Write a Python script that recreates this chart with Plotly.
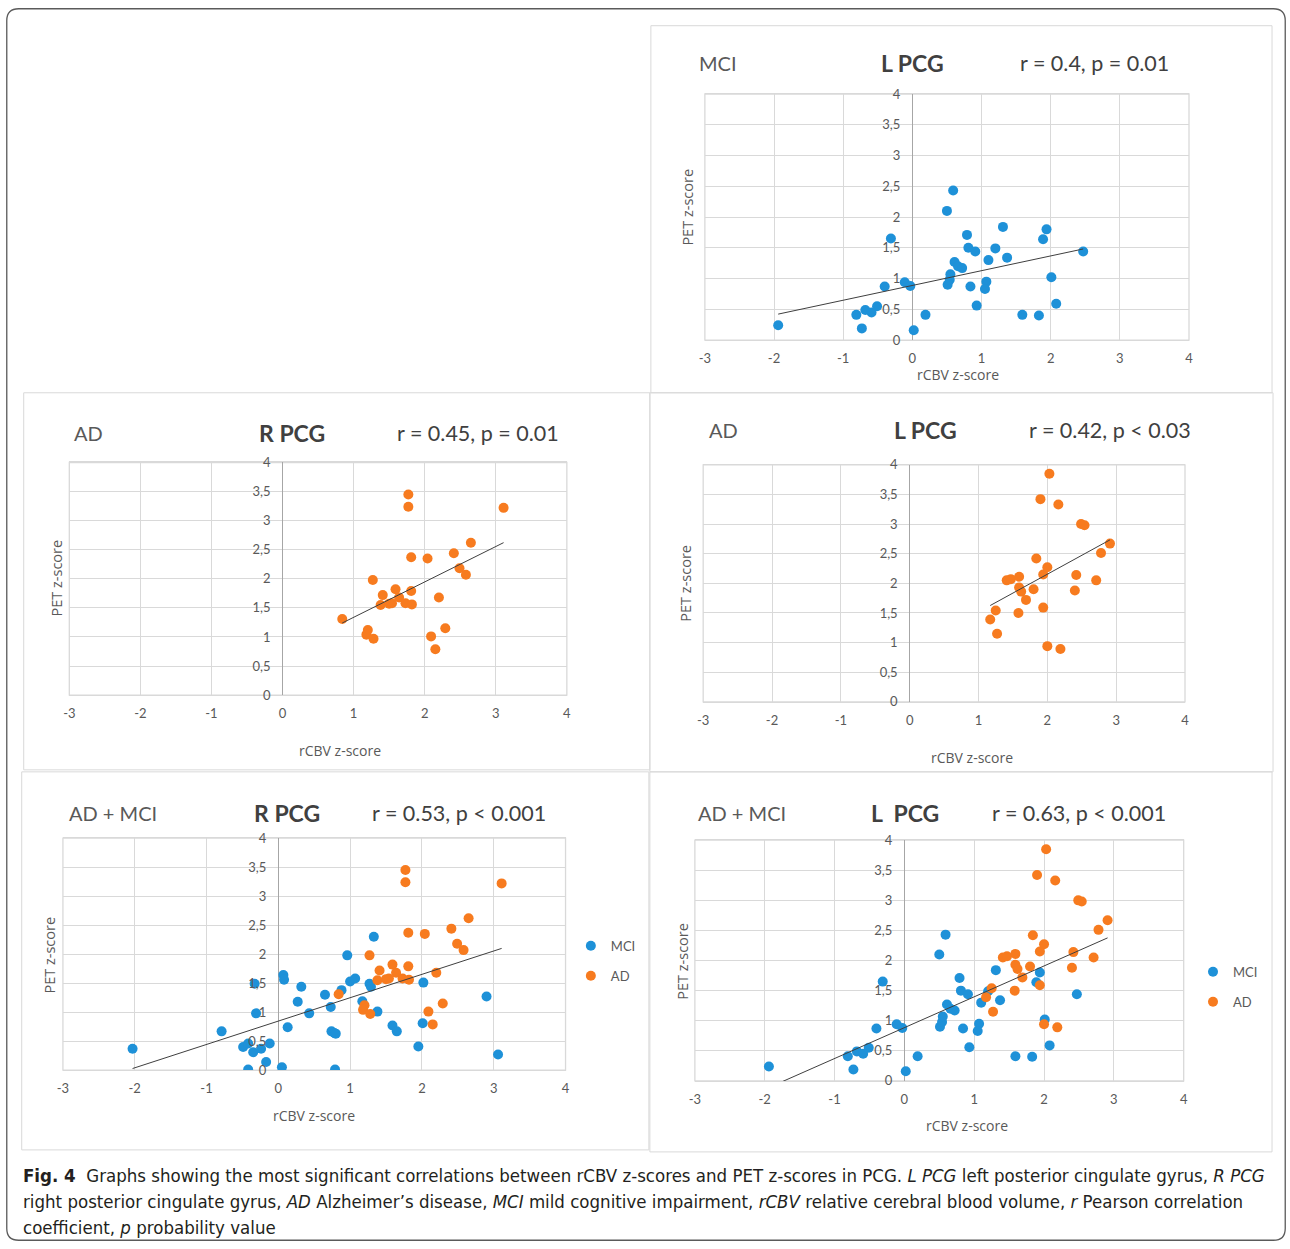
import numpy as np
import plotly.graph_objects as go

W, H = 1290, 1249
# measured mapping from page pixels to pixels of the returned picture
# (picture = S * page + B); positions below are given in picture pixels
SX, BX = 0.992, 6.3
SY, BY = 0.987, 8.3

# ---------------- data ----------------
# MCI, left PCG (panel "MCI L PCG" and blue points of "AD + MCI L PCG")
mci_L_x = [-1.94, -0.81, -0.73, -0.68, -0.59, -0.51, -0.40, -0.31, -0.11, -0.03,
           0.02, 0.19, 0.50, 0.59, 0.51, 0.54, 0.55, 0.61, 0.66, 0.72,
           0.79, 0.81, 0.84, 0.91, 0.93, 1.07, 1.05, 1.10, 1.20, 1.31,
           1.37, 1.59, 1.83, 1.89, 1.94, 2.01, 2.08, 2.47]
mci_L_y = [0.24, 0.41, 0.19, 0.49, 0.45, 0.55, 0.87, 1.65, 0.94, 0.88,
           0.16, 0.41, 2.10, 2.43, 0.90, 0.98, 1.07, 1.27, 1.20, 1.17,
           1.71, 1.50, 0.87, 1.44, 0.56, 0.95, 0.83, 1.30, 1.49, 1.84,
           1.34, 0.41, 0.40, 1.64, 1.80, 1.02, 0.59, 1.44]

# MCI, right PCG (blue points of "AD + MCI R PCG")
mci_R_x = [-2.03, -0.79, -0.49, -0.42, -0.42, -0.35, -0.33, -0.31, -0.24, -0.17,
           -0.12, 0.05, 0.07, 0.08, 0.13, 0.27, 0.32, 0.43, 0.65, 0.73,
           0.74, 0.78, 0.80, 0.79, 0.88, 0.96, 1.00, 1.07, 1.17, 1.27,
           1.29, 1.33, 1.38, 1.59, 1.65, 1.95, 2.01, 2.02, 2.90, 3.06]
mci_R_y = [0.37, 0.67, 0.40, 0.01, 0.46, 0.31, 1.49, 0.98, 0.37, 0.14,
           0.46, 0.05, 1.64, 1.56, 0.74, 1.18, 1.44, 0.98, 1.30, 1.09,
           0.67, 0.64, 0.63, 0.01, 1.38, 1.98, 1.53, 1.58, 1.19, 1.49,
           1.44, 2.30, 1.01, 0.77, 0.67, 0.41, 0.81, 1.51, 1.27, 0.27]

# AD, right PCG
ad_R_x = [0.84, 1.20, 1.18, 1.28, 1.27, 1.38, 1.41, 1.50, 1.54, 1.59,
          1.64, 1.73, 1.77, 1.77, 1.81, 1.81, 1.82, 2.04, 2.09, 2.15,
          2.20, 2.29, 2.41, 2.49, 2.58, 2.65, 3.11]
ad_R_y = [1.31, 1.12, 1.04, 0.97, 1.98, 1.55, 1.72, 1.57, 1.58, 1.82,
          1.68, 1.58, 3.45, 3.24, 2.37, 1.79, 1.56, 2.35, 1.01, 0.79,
          1.68, 1.15, 2.44, 2.18, 2.07, 2.62, 3.22]

# AD, left PCG
ad_L_x = [1.17, 1.25, 1.27, 1.41, 1.47, 1.59, 1.58, 1.59, 1.62, 1.69,
          1.80, 1.84, 1.90, 1.94, 1.94, 2.00, 2.00, 2.03, 2.16, 2.19,
          2.40, 2.42, 2.49, 2.54, 2.71, 2.78, 2.91]
ad_L_y = [1.39, 1.54, 1.15, 2.05, 2.07, 2.11, 1.50, 1.93, 1.86, 1.72,
          1.90, 2.42, 3.42, 2.15, 1.59, 2.27, 0.94, 3.85, 3.33, 0.89,
          1.88, 2.14, 3.00, 2.98, 2.05, 2.51, 2.67]

x_tick_vals = [-3, -2, -1, 0, 1, 2, 3, 4]
x_tick_text = ["-3", "-2", "-1", "0", "1", "2", "3", "4"]
y_tick_vals = [0, 0.5, 1, 1.5, 2, 2.5, 3, 3.5, 4]
y_tick_text = ["0", "0,5", "1", "1,5", "2", "2,5", "3", "3,5", "4"]

group_labels = ["MCI", "AD", "AD", "AD + MCI", "AD + MCI"]
region_labels = ["L PCG", "R PCG", "L PCG", "R PCG", "L  PCG"]
stat_labels = ["r = 0.4, p = 0.01", "r = 0.45, p = 0.01", "r = 0.42, p < 0.03",
               "r = 0.53, p < 0.001", "r = 0.63, p < 0.001"]
series_names = ["MCI", "AD"]

BLUE = "#1e91d8"
ORANGE = "#f77b1f"
GRID = "#d9d9d9"
TXT = "#595959"
DARK = "#404040"
FONT = "Lato, 'Open Sans', sans-serif"
TITLE_FONT = "'Open Sans', sans-serif"

# ---------------- layout geometry (picture pixels) ----------------
def fx(px):
    q = (px - BX) / SX
    return q / W

def fy(py):
    q = (py - BY) / SY
    return 1 - q / H

# plot-area boxes: left, right, top, bottom
areas = [
    (705, 1189, 94.3, 340.3),
    (69.6, 567, 462.7, 695.3),
    (703.3, 1185, 465, 702),
    (63.2, 565.7, 838.3, 1070.3),
    (695, 1183.7, 840.3, 1081),
]
# panel frames: left, top, right, bottom
frames = [
    (651, 26, 1272, 393),
    (24, 393, 650, 770),
    (650, 393, 1273, 772),
    (22, 772, 649, 1150),
    (650, 772, 1272, 1152),
]
# heading positions: y, x of group label, x of region, x of stats
heads = [
    (63, 697, 879, 1018),
    (433, 72, 257, 395),
    (430, 707, 892, 1027),
    (813, 67, 252, 370),
    (813, 696, 869, 990),
]
# axis titles: (x-title cx, cy), (y-title cx, cy)
titles = [
    ((958, 375), (688, 207)),
    ((340, 751), (57, 578)),
    ((972, 758), (686, 583)),
    ((314, 1116), (50, 955)),
    ((967, 1126), (683, 961)),
]

panel_series = [
    [(mci_L_x, mci_L_y, BLUE, 0)],
    [(ad_R_x, ad_R_y, ORANGE, 1)],
    [(ad_L_x, ad_L_y, ORANGE, 1)],
    [(mci_R_x, mci_R_y, BLUE, 0), (ad_R_x, ad_R_y, ORANGE, 1)],
    [(mci_L_x, mci_L_y, BLUE, 0), (ad_L_x, ad_L_y, ORANGE, 1)],
]
legend_of_panel = [None, None, None, "legend", "legend2"]

fig = go.Figure()
shapes = []
annotations = []
layout = {}

for i in range(5):
    n = i + 1
    xa = "x" if n == 1 else f"x{n}"
    ya = "y" if n == 1 else f"y{n}"
    L, R, T, B = areas[i]
    x0px = L + (0 - (-3)) / 7 * (R - L)

    layout["xaxis" if n == 1 else f"xaxis{n}"] = dict(
        domain=[fx(L), fx(R)], range=[-3, 4], anchor=ya,
        tickvals=x_tick_vals, ticktext=x_tick_text,
        showgrid=True, gridcolor=GRID, gridwidth=1.3,
        zeroline=True, zerolinecolor="#a6a6a6", zerolinewidth=1.3,
        showline=True, mirror=True, linecolor=GRID, linewidth=1.3,
        ticks="", ticklabelstandoff=6,
        tickfont=dict(family=FONT, size=13, color=TXT), fixedrange=True,
    )
    layout["yaxis" if n == 1 else f"yaxis{n}"] = dict(
        domain=[fy(B), fy(T)], range=[0, 4], anchor="free", position=fx(x0px),
        tickvals=y_tick_vals, ticktext=y_tick_text,
        showgrid=True, gridcolor=GRID, gridwidth=1.3,
        zeroline=False, showline=False, ticks="", ticklabelstandoff=12,
        tickfont=dict(family=FONT, size=13, color=TXT), fixedrange=True,
    )

    # left / right edges of the plot area
    shapes.append(dict(type="rect", xref=f"{xa} domain", yref=f"{ya} domain",
                       x0=0, x1=1, y0=0, y1=1, line=dict(color=GRID, width=1.3),
                       layer="below"))

    allx, ally = [], []
    for (sx, sy, col, k) in panel_series[i]:
        leg = legend_of_panel[i]
        fig.add_trace(go.Scatter(
            x=sx, y=sy, mode="markers", xaxis=xa, yaxis=ya,
            marker=dict(color=col, size=10, line=dict(width=0)),
            name=series_names[k], showlegend=leg is not None,
            legend=leg if leg else "legend", legendgroup=f"{leg}{k}",
            hoverinfo="x+y",
        ))
        allx += list(sx)
        ally += list(sy)

    # linear trend line fitted to the panel's data
    slope, icpt = np.polyfit(allx, ally, 1)
    tx = np.array([min(allx), max(allx)])
    fig.add_trace(go.Scatter(
        x=tx, y=slope * tx + icpt, mode="lines", xaxis=xa, yaxis=ya,
        line=dict(color="#3f3f3f", width=1), showlegend=False, hoverinfo="skip",
    ))

    # panel frame
    fl, ft, fr, fb = frames[i]
    shapes.append(dict(type="rect", xref="paper", yref="paper",
                       x0=fx(fl), x1=fx(fr), y0=fy(fb), y1=fy(ft),
                       line=dict(color=GRID, width=1), layer="below"))

    # headings
    hy, gx, rx, sx_ = heads[i]
    annotations.append(dict(text=group_labels[i], x=fx(gx), y=fy(hy), xref="paper", yref="paper",
                            xanchor="left", yanchor="middle", showarrow=False,
                            font=dict(family=FONT, size=20, color=TXT)))
    annotations.append(dict(text="<b>" + region_labels[i].replace("  ", "&nbsp; ") + "</b>",
                            x=fx(rx), y=fy(hy), xref="paper", yref="paper",
                            xanchor="left", yanchor="middle", showarrow=False,
                            font=dict(family=FONT, size=23, color=DARK)))
    annotations.append(dict(text=stat_labels[i], x=fx(sx_), y=fy(hy), xref="paper", yref="paper",
                            xanchor="left", yanchor="middle", showarrow=False,
                            font=dict(family=FONT, size=21.5, color=DARK)))

    # axis titles
    (xtx, xty), (ytx, yty) = titles[i]
    annotations.append(dict(text="rCBV z-score", x=fx(xtx), y=fy(xty), xref="paper", yref="paper",
                            xanchor="center", yanchor="middle", showarrow=False,
                            font=dict(family=TITLE_FONT, size=14, color=TXT)))
    annotations.append(dict(text="PET z-score", x=fx(ytx), y=fy(yty), xref="paper", yref="paper",
                            xanchor="center", yanchor="middle", showarrow=False, textangle=-90,
                            font=dict(family=TITLE_FONT, size=14.5, color=TXT)))

# outer rounded border (clamped to the figure)
bx0, by0 = max(fx(5), 0.0006), min(fy(8), 0.9994)
bx1, by1 = min(fx(1287), 0.9994), max(fy(1247), 0.0006)
rx_, ry_ = 12 / W, 12 / H
def P(a, b):
    return f"{a:.5f},{b:.5f}"
path = (f"M {P(bx0 + rx_, by0)} L {P(bx1 - rx_, by0)} Q {P(bx1, by0)} {P(bx1, by0 - ry_)} "
        f"L {P(bx1, by1 + ry_)} Q {P(bx1, by1)} {P(bx1 - rx_, by1)} "
        f"L {P(bx0 + rx_, by1)} Q {P(bx0, by1)} {P(bx0, by1 + ry_)} "
        f"L {P(bx0, by0 - ry_)} Q {P(bx0, by0)} {P(bx0 + rx_, by0)} Z")
shapes.append(dict(type="path", xref="paper", yref="paper", path=path,
                   line=dict(color="#5a5a5a", width=1.3)))

# caption
cap_font = "'Liberation Sans Narrow', 'DejaVu Sans Condensed', 'Noto Sans', sans-serif"
cap_lines = [
    "<b>Fig. 4</b>&nbsp; Graphs showing the most significant correlations between rCBV z-scores and PET z-scores in PCG. "
    "<i>L PCG</i> left posterior cingulate gyrus, <i>R PCG</i>",
    "right posterior cingulate gyrus, <i>AD</i> Alzheimer’s disease, <i>MCI</i> mild cognitive impairment, "
    "<i>rCBV</i> relative cerebral blood volume, <i>r</i> Pearson correlation",
    "coefficient, <i>p</i> probability value",
]
for j, (line, ly) in enumerate(zip(cap_lines, [1176, 1202, 1228])):
    annotations.append(dict(text=line, x=fx(21), y=fy(ly), xref="paper", yref="paper",
                            xanchor="left", yanchor="middle", showarrow=False,
                            font=dict(family=cap_font, size=18.5, color="#231f20")))

leg_common = dict(font=dict(family=FONT, size=13, color=TXT), bgcolor="rgba(0,0,0,0)",
                  xanchor="left", yanchor="top", tracegroupgap=10, itemwidth=30,
                  traceorder="grouped")
layout["legend"] = dict(x=fx(571), y=fy(931), **leg_common)
layout["legend2"] = dict(x=fx(1193), y=fy(957), **leg_common)

fig.update_layout(
    width=W, height=H, margin=dict(l=0, r=0, t=0, b=0),
    paper_bgcolor="white", plot_bgcolor="white",
    shapes=shapes, annotations=annotations, showlegend=True,
    **layout,
)

fig.write_html("out.html", config={"displayModeBar": False},
               post_script="document.body.style.margin='0';document.body.style.overflow='hidden';")
